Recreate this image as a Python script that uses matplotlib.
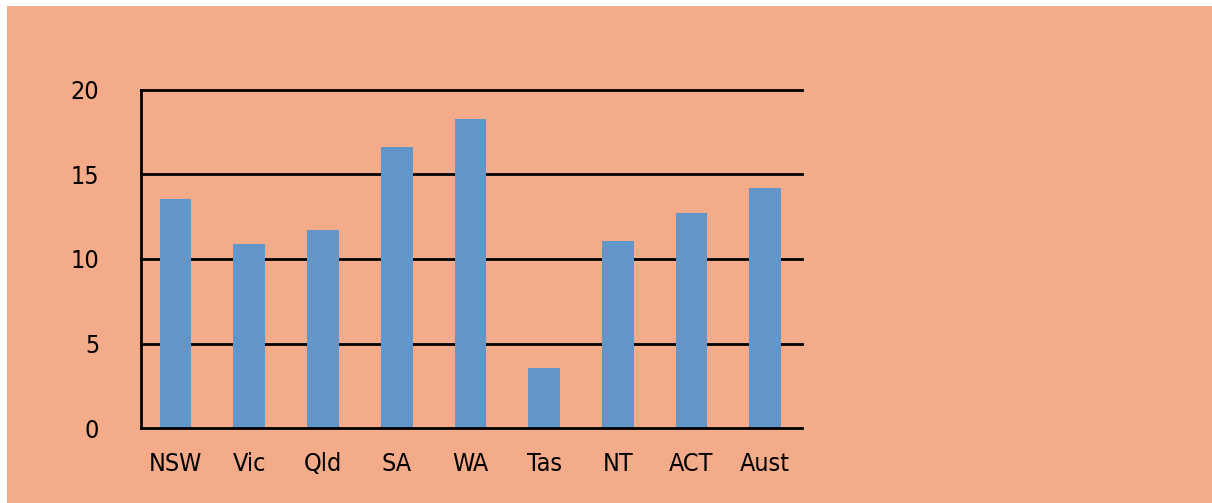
import matplotlib
matplotlib.use("Agg")
import matplotlib.pyplot as plt
from matplotlib.patches import Rectangle

# values
states = ["NSW", "Vic", "Qld", "SA", "WA", "Tas", "NT", "ACT", "Aust"]
values = [13.55, 10.9, 11.7, 16.6, 18.3, 3.55, 11.05, 12.7, 14.2]
yticks = [0, 5, 10, 15, 20]

salmon = "#F4AB8A"
blue = "#6396C8"

plt.rcParams["font.family"] = ["DejaVu Sans"]
plt.rcParams["font.stretch"] = "condensed"

W, H = 1212, 503
fig = plt.figure(figsize=(W / 100, H / 100), dpi=100)
fig.patch.set_facecolor("white")
# salmon panel, white strip on top and left
fig.patches.append(Rectangle((7 / W, 0), 1 - 7 / W, 1 - 6 / H,
                             transform=fig.transFigure, facecolor=salmon,
                             edgecolor="none", zorder=-10))

ax = fig.add_axes([141 / W, 1 - 428 / H, (802 - 141) / W, (428 - 90) / H])
ax.set_facecolor("none")
ax.set_zorder(5)

x = range(len(states))
ax.bar(x, values, width=0.43, color=blue, zorder=3)

ax.set_xlim(-0.47, 8.5)
ax.set_ylim(0, 20)
ax.set_yticks(yticks)
ax.set_xticks(list(x))
ax.set_xticklabels(states)

for y in yticks[1:]:
    ax.axhline(y, color="black", lw=2, zorder=1, clip_on=False)

for s in ["top", "right"]:
    ax.spines[s].set_visible(False)
for s in ["left", "bottom"]:
    ax.spines[s].set_linewidth(2)
    ax.spines[s].set_color("black")
    ax.spines[s].set_zorder(4)

ax.tick_params(axis="y", length=0, pad=30, labelsize=18)
ax.tick_params(axis="x", length=0, pad=17, labelsize=18)

fig.savefig("out.png", dpi=100, facecolor=fig.get_facecolor())
